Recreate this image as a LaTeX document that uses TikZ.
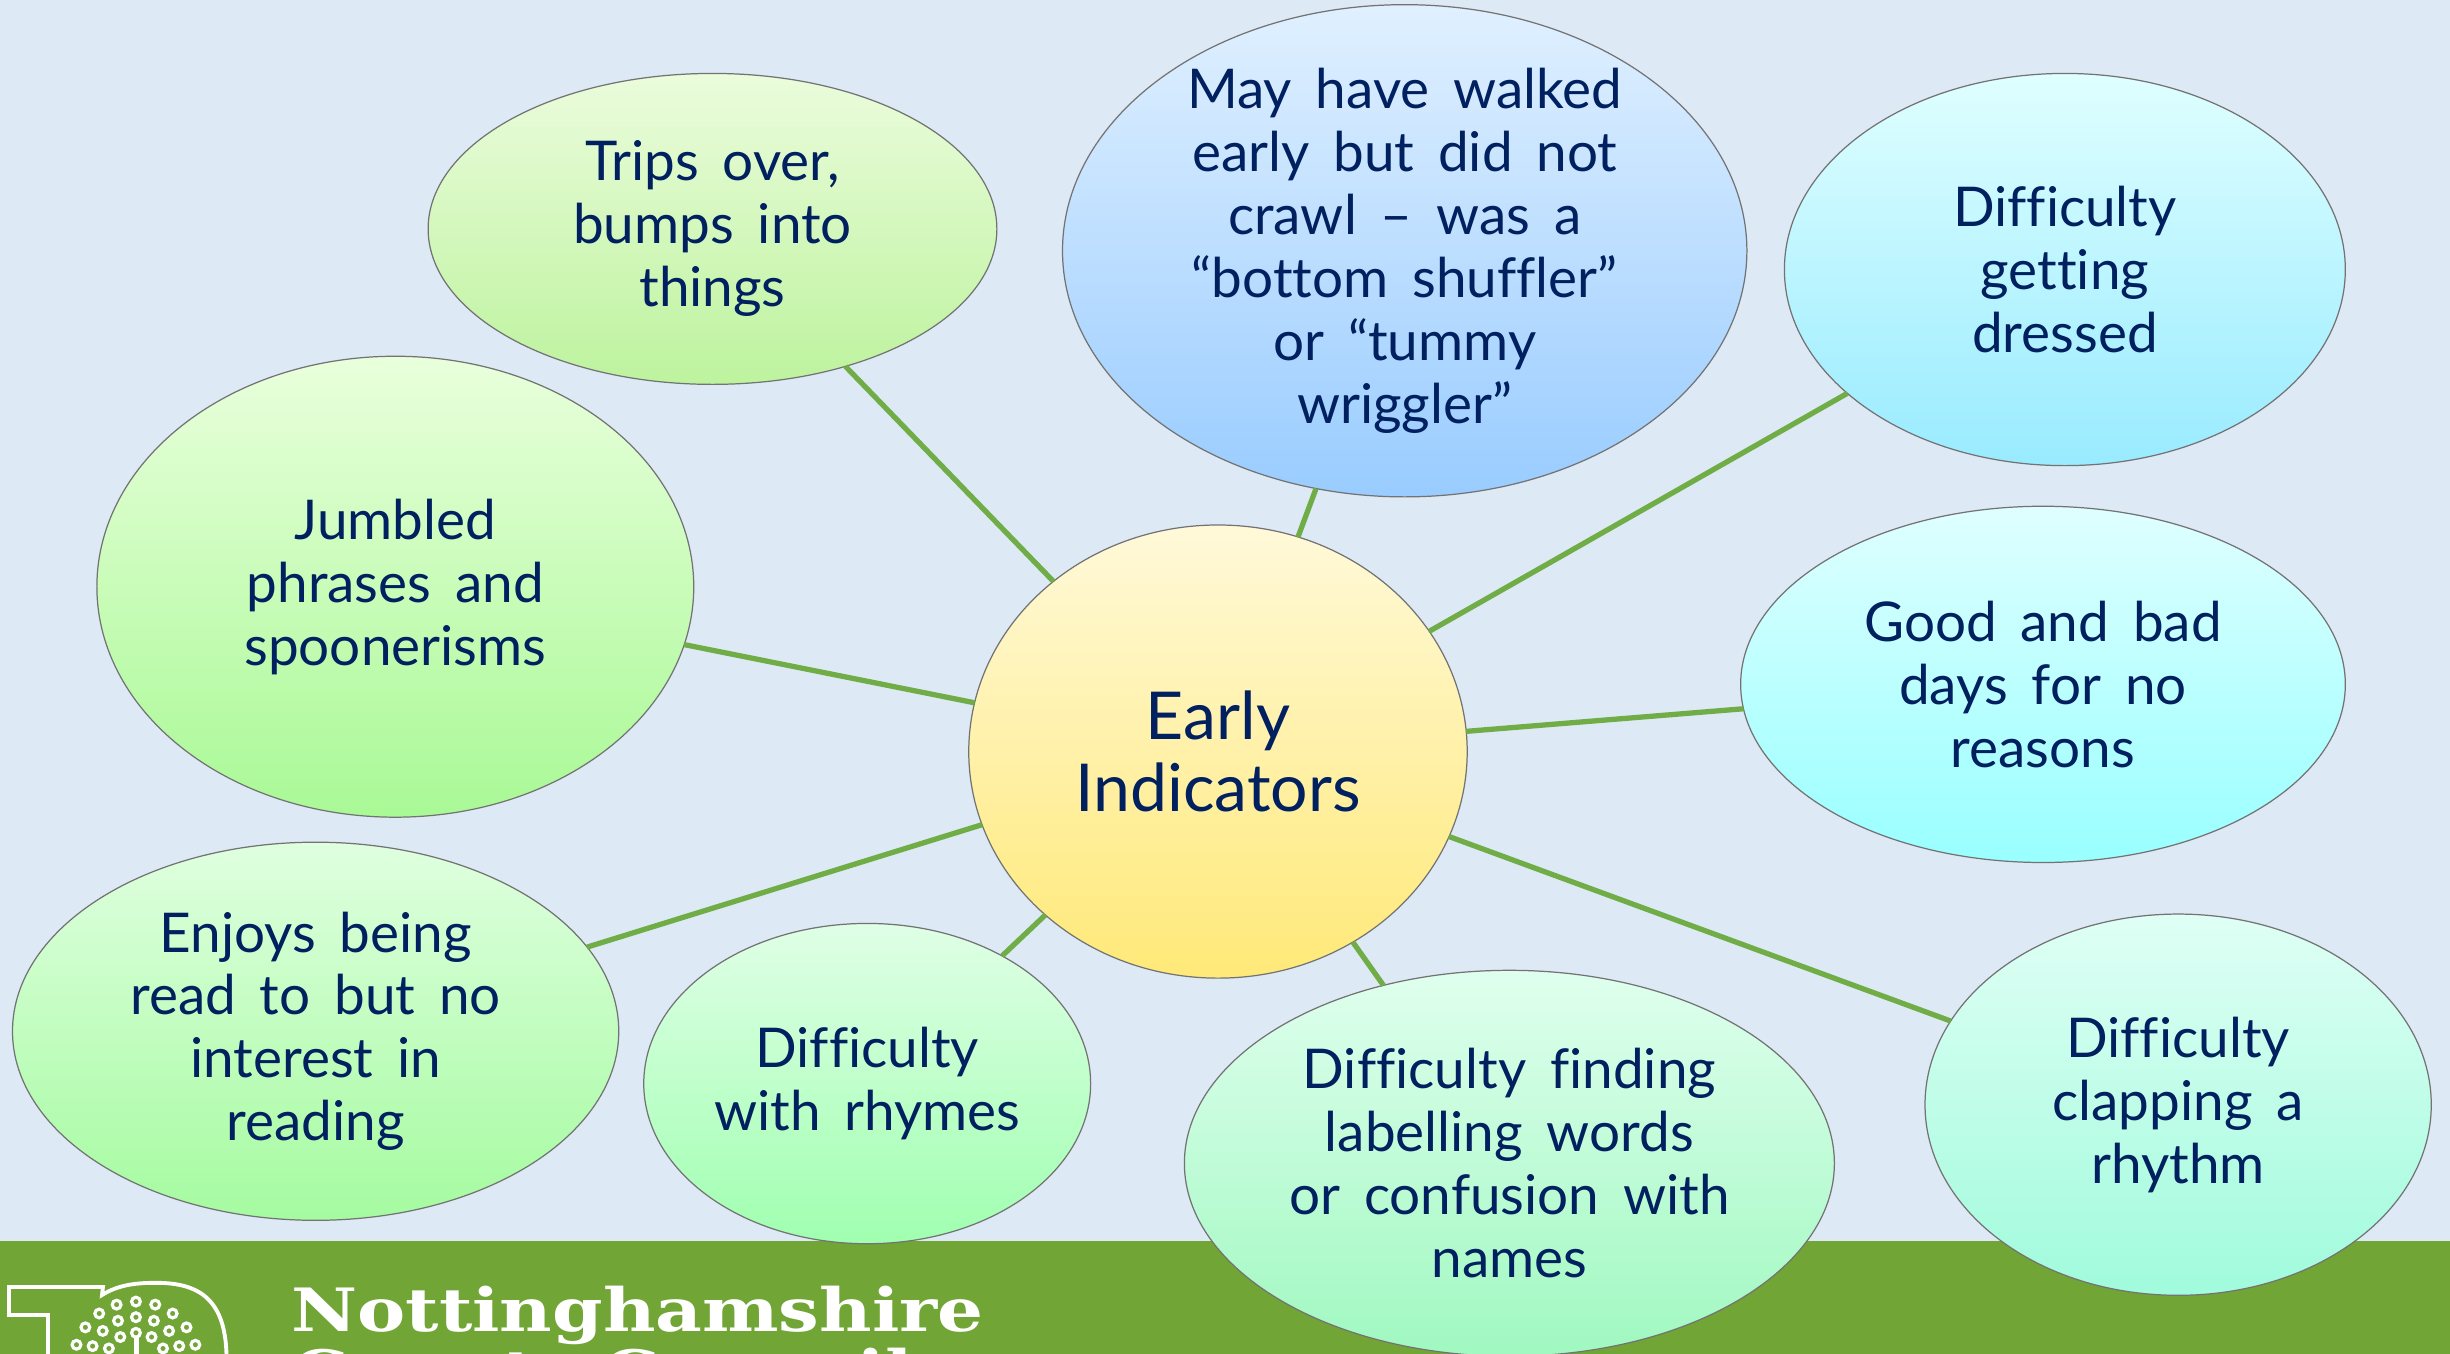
\documentclass[tikz,border=0pt]{standalone}
\usepackage{fontspec}
\usepackage{graphicx}
\setmainfont{Lato}[WordSpace=1.7,Ligatures=CommonOff]
\newfontfamily\slabfont{DejaVu Serif}
\usetikzlibrary{shapes.geometric}
\definecolor{bgblue}{HTML}{DDE9F5}
\definecolor{bandgreen}{HTML}{71A536}
\definecolor{spokegreen}{HTML}{70AD47}
\definecolor{inkblue}{HTML}{002060}
\definecolor{hubA}{HTML}{FFF9D9}\definecolor{hubB}{HTML}{FFE978}
\definecolor{walkedA}{HTML}{E0F0FF}\definecolor{walkedB}{HTML}{99CCFF}
\definecolor{tripsA}{HTML}{EBFCDC}\definecolor{tripsB}{HTML}{BDF39E}
\definecolor{dressedA}{HTML}{DFFFFF}\definecolor{dressedB}{HTML}{99EBFF}
\definecolor{reasonsA}{HTML}{DFFFFF}\definecolor{reasonsB}{HTML}{99FFFF}
\definecolor{jumbledA}{HTML}{E9FFDC}\definecolor{jumbledB}{HTML}{A9F996}
\definecolor{readingA}{HTML}{DFFFDF}\definecolor{readingB}{HTML}{A5FBA0}
\definecolor{rhymesA}{HTML}{DFFFE6}\definecolor{rhymesB}{HTML}{A0FFB0}
\definecolor{namesA}{HTML}{DFFFEE}\definecolor{namesB}{HTML}{A0F8C0}
\definecolor{rhythmA}{HTML}{DFFFF5}\definecolor{rhythmB}{HTML}{A0FBDC}
\tikzset{
    bubble/.style={draw=black!55, line width=0.35pt, ellipse, inner sep=-1cm, outer sep=0pt, align=center,
        text=inkblue, font=\fontsize{15.6}{17.9}\selectfont, execute at begin node=\rule{0pt}{16pt}},
    bsize/.style 2 args={minimum width=#1*0.015625cm, minimum height=#2*0.015625cm},
    shade2/.style={top color=#1A, bottom color=#1B},
    spoke/.style={draw=spokegreen, line width=1.5pt},
    logoline/.style={draw=white, line width=1.1pt},
    slab/.style={anchor=base west, inner sep=0pt, text=white, font=\slabfont\bfseries\fontsize{17}{17}\selectfont}
}
\begin{document}
\begin{tikzpicture}[x=0.015625cm,y=-0.015625cm]
    \useasboundingbox (0,0) rectangle (1568,866.56);
    \clip (0,0) rectangle (1568,866.56);
    \fill[bgblue] (0,0) rectangle (1568,866.56);
    \fill[bandgreen] (0,794) rectangle (1568,866.56);
    % logo
    \draw[logoline] (30.7,870) -- (30.7,841.6) -- (5.8,841.6) -- (5.8,823.7) -- (65.9,823.7) -- (65.3,828.8)
        .. controls (76,822) and (88,821) .. (100,821) .. controls (128,821) and (145,832) .. (145,870);
    \foreach \ringr/\ringn in {40/9,30/7,20/5}
        \foreach \i in {1,...,\ringn}
            \draw[white, line width=0.9pt] ({87+\ringr*cos(180*\i/(\ringn+1))},{873-\ringr*sin(180*\i/(\ringn+1))}) circle (2.8);
    \fill[white] (85.5,855) rectangle (89,870);
    \node[slab] (nameA) at (186,852) {\scalebox{1.21}[1]{Nottinghamshire}};
    \node[slab] (nameB) at (186,892) {\scalebox{1.21}[1]{County Council}};
    % bubbles
    \node[bubble, bsize={319}{290}, shade2=hub, font=\fontsize{18.8}{20.3}\selectfont, execute at begin node={}] (hub) at (779.5,481) {Early\\Indicators};
    \node[bubble, bsize={438}{315}, shade2=walked] (walked) at (899,160.5) {May have walked\\early but did not\\crawl -- was a\\``bottom shuffler''\\or ``tummy\\wriggler''};
    \node[bubble, bsize={364}{199}, shade2=trips] (trips) at (456,146.5) {Trips over,\\bumps into\\things};
    \node[bubble, bsize={359}{251}, shade2=dressed] (dressed) at (1321.5,172.5) {Difficulty\\getting\\dressed};
    \node[bubble, bsize={387}{228}, shade2=reasons] (reasons) at (1307.5,438) {Good and bad\\days for no\\reasons};
    \node[bubble, bsize={382}{295}, shade2=jumbled] (jumbled) at (253,375.5) {Jumbled\\phrases and\\spoonerisms};
    \node[bubble, bsize={388}{242}, shade2=reading] (reading) at (202,660) {Enjoys being\\read to but no\\interest in\\reading};
    \node[bubble, bsize={286}{205}, shade2=rhymes] (rhymes) at (555,693.5) {Difficulty\\with rhymes};
    \node[bubble, bsize={416}{247}, shade2=names] (names) at (966,744.5) {Difficulty finding\\labelling words\\or confusion with\\names};
    \node[bubble, bsize={324}{244}, shade2=rhythm] (rhythm) at (1394,707) {Difficulty\\clapping a\\rhythm};
    % connectors
    \draw[spoke] (hub) -- (walked);
    \draw[spoke] (hub) -- (trips);
    \draw[spoke] (hub) -- (dressed);
    \draw[spoke] (hub) -- (reasons);
    \draw[spoke] (hub) -- (jumbled);
    \draw[spoke] (hub) -- (reading);
    \draw[spoke] (hub) -- (rhymes);
    \draw[spoke] (hub) -- (names);
    \draw[spoke] (hub) -- (rhythm);
\end{tikzpicture}
\end{document}
